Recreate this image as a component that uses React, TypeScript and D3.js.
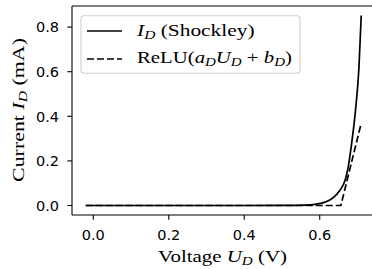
import React, { useEffect, useRef } from "react";
import * as d3 from "d3";

// Diode curve (V, mA)
const voltage = [-0.02, 0.1, 0.2, 0.3, 0.4, 0.5, 0.56, 0.587, 0.614, 0.636, 0.653, 0.667, 0.6755, 0.6845, 0.695, 0.704, 0.71];
const shockley = [0, 0, 0, 0, 0, 0.0005, 0.002, 0.005, 0.015, 0.035, 0.067, 0.112, 0.172, 0.277, 0.43, 0.62, 0.852];

const reluVoltage = [-0.02, 0.656, 0.71];
const reluCurrent = [0, 0, 0.369];

const xTicks = [0.0, 0.2, 0.4, 0.6];
const yTicks = [0.0, 0.2, 0.4, 0.6, 0.8];

const W = 372;
const H = 269;
// DejaVu Serif is not installed, so Liberation Serif is stretched to the reference widths
const SERIF = "'Liberation Serif', serif";
const SANS = "'DejaVu Sans', sans-serif";
const FS = 14.5; // tick labels
const SFS = 16; // serif labels

export default function App() {
  const svgRef = useRef<SVGSVGElement>(null);

  useEffect(() => {
    const svg = d3.select(svgRef.current);
    svg.selectAll("*").remove();

    const left = 72, right = 375, top = 6, bottom = 215;

    const x = d3.scaleLinear().domain([-0.0565, 0.7465]).range([left, right]);
    const y = d3.scaleLinear().domain([-0.0426, 0.8946]).range([bottom, top]);

    svg.append("rect").attr("width", W).attr("height", H).attr("fill", "white");

    const shockleyPts = voltage.map((v, i) => [v, shockley[i]] as [number, number]);
    const reluPts = reluVoltage.map((v, i) => [v, reluCurrent[i]] as [number, number]);

    const smooth = d3.line<[number, number]>()
      .x((d) => x(d[0]))
      .y((d) => y(d[1]))
      .curve(d3.curveMonotoneX);
    const straight = d3.line<[number, number]>()
      .x((d) => x(d[0]))
      .y((d) => y(d[1]));

    svg.append("path")
      .attr("d", smooth(shockleyPts))
      .attr("fill", "none")
      .attr("stroke", "black")
      .attr("stroke-width", 1.7);

    svg.append("path")
      .attr("d", straight(reluPts))
      .attr("fill", "none")
      .attr("stroke", "black")
      .attr("stroke-width", 1.7)
      .attr("stroke-dasharray", "7,3");

    // spines
    const g = svg.append("g").attr("stroke", "black").attr("stroke-width", 1.1);
    g.append("line").attr("x1", left).attr("x2", left).attr("y1", top).attr("y2", bottom);
    g.append("line").attr("x1", left).attr("x2", right).attr("y1", bottom).attr("y2", bottom);
    g.append("line").attr("x1", left).attr("x2", right).attr("y1", top).attr("y2", top);
    g.append("line").attr("x1", right).attr("x2", right).attr("y1", top).attr("y2", bottom);

    // x ticks
    xTicks.forEach((t) => {
      svg.append("line")
        .attr("x1", x(t)).attr("x2", x(t))
        .attr("y1", bottom).attr("y2", bottom + 4.7)
        .attr("stroke", "black").attr("stroke-width", 1.1);
      svg.append("text")
        .attr("x", x(t)).attr("y", 240)
        .attr("text-anchor", "middle")
        .style("font-family", SANS).style("font-size", `${FS}px`)
        .text(d3.format(".1f")(t));
    });

    // y ticks
    yTicks.forEach((t) => {
      svg.append("line")
        .attr("x1", left - 4.7).attr("x2", left)
        .attr("y1", y(t)).attr("y2", y(t))
        .attr("stroke", "black").attr("stroke-width", 1.1);
      svg.append("text")
        .attr("x", left - 13).attr("y", y(t))
        .attr("dy", "0.36em")
        .attr("text-anchor", "end")
        .style("font-family", SANS).style("font-size", `${FS}px`)
        .text(d3.format(".1f")(t));
    });

    const sub = (el: any, s: string) =>
      el.append("tspan").attr("font-style", "italic").attr("font-size", `${SFS * 0.72}px`).attr("dy", 3).text(s);
    const up = (el: any, s: string, italic = false) =>
      el.append("tspan").attr("font-style", italic ? "italic" : "normal").attr("dy", -3).text(s);

    // place a label, then stretch it horizontally to the measured width
    const fit = (el: any, transform: string, width: number, anchor: string) => {
      el.attr("text-anchor", anchor);
      const w = (el.node() as SVGTextElement).getBBox().width;
      const s = w > 0 ? width / w : 1;
      el.attr("transform", `${transform} scale(${s},1)`);
    };

    const serifText = (parent: any) =>
      parent.append("text")
        .attr("x", 0).attr("y", 0)
        .style("font-family", SERIF).style("font-size", `${SFS}px`);

    // x label
    const xl = serifText(svg);
    xl.append("tspan").text("Voltage ");
    xl.append("tspan").attr("font-style", "italic").text("U");
    sub(xl, "D");
    up(xl, " (V)");
    fit(xl, "translate(222.5,262)", 129, "middle");

    // y label
    const yl = serifText(svg);
    yl.append("tspan").text("Current ");
    yl.append("tspan").attr("font-style", "italic").text("I");
    sub(yl, "D");
    up(yl, " (mA)");
    fit(yl, "translate(23.5,110) rotate(-90)", 144, "middle");

    // legend
    const lg = svg.append("g");
    lg.append("rect")
      .attr("x", 81).attr("y", 15.7).attr("width", 219).attr("height", 57.6)
      .attr("rx", 3)
      .attr("fill", "white").attr("fill-opacity", 0.8)
      .attr("stroke", "#d0d0d0").attr("stroke-width", 1.1);

    const rows = [31, 59];
    lg.append("line").attr("x1", 87).attr("x2", 122).attr("y1", rows[0]).attr("y2", rows[0])
      .attr("stroke", "black").attr("stroke-width", 1.7);
    lg.append("line").attr("x1", 87).attr("x2", 122).attr("y1", rows[1]).attr("y2", rows[1])
      .attr("stroke", "black").attr("stroke-width", 1.7).attr("stroke-dasharray", "7,3");

    const t1 = serifText(lg);
    t1.append("tspan").attr("font-style", "italic").text("I");
    sub(t1, "D");
    up(t1, " (Shockley)");
    fit(t1, `translate(137,${rows[0] + 5})`, 119, "start");

    const t2 = serifText(lg);
    t2.append("tspan").text("ReLU(");
    t2.append("tspan").attr("font-style", "italic").text("a");
    sub(t2, "D");
    up(t2, "U", true);
    sub(t2, "D");
    up(t2, " + ");
    t2.append("tspan").attr("font-style", "italic").text("b");
    sub(t2, "D");
    up(t2, ")");
    fit(t2, `translate(137,${rows[1] + 4})`, 155, "start");
  }, []);

  return (
    <svg
      ref={svgRef}
      width={W}
      height={H}
      style={{ position: "absolute", left: 0, top: 0, display: "block" }}
    />
  );
}
